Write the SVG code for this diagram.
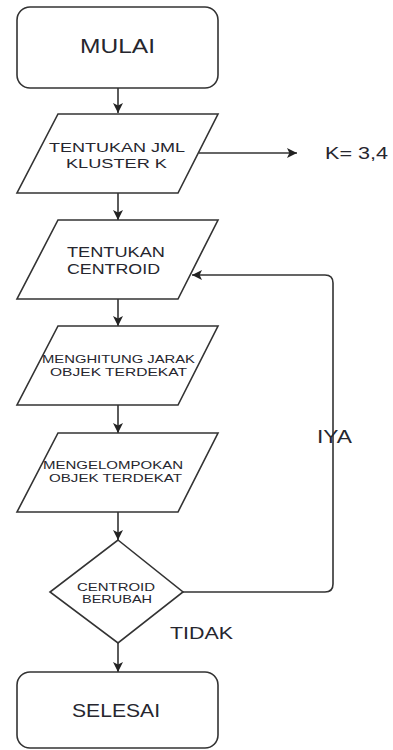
<svg xmlns="http://www.w3.org/2000/svg" width="393" height="750" viewBox="0 0 393 750">
<style>
.s{fill:#fff;stroke:#333;stroke-width:1.6}
.t{font-family:"Liberation Sans",Arial,sans-serif;fill:#26262e;text-anchor:middle}
.c{fill:none;stroke:#333;stroke-width:1.6}
</style>
<defs>
<marker id="ah" markerWidth="11" markerHeight="11" refX="10" refY="5.5" orient="auto" markerUnits="userSpaceOnUse">
<path d="M0,0.5 L10,5.5 L0,10.5 L2.4,5.5 Z" fill="#222"/>
</marker>
</defs>
<rect width="393" height="750" fill="#fff"/>
<g id="connectors">
<path class="c" d="M118,88 V113" marker-end="url(#ah)"/>
<path class="c" d="M199,153 H297" marker-end="url(#ah)"/>
<path class="c" d="M118,193 V220" marker-end="url(#ah)"/>
<path class="c" d="M118,299 V326" marker-end="url(#ah)"/>
<path class="c" d="M118,405 V433" marker-end="url(#ah)"/>
<path class="c" d="M118,512 V540" marker-end="url(#ah)"/>
<path class="c" d="M118,643 V672" marker-end="url(#ah)"/>
<path class="c" d="M183,592 H325 Q333,592 333,584 V283 Q333,275 325,275 H192" marker-end="url(#ah)"/>
</g>
<g id="mulai">
<rect class="s" x="17" y="7" width="201" height="81" rx="13"/>
<text class="t" x="117.5" y="53" font-size="21" textLength="75" lengthAdjust="spacingAndGlyphs">MULAI</text>
</g>
<g id="tentukan-jml">
<polygon class="s" points="58,114 218,114 178,193 17,193"/>
<text class="t" x="117" y="152" font-size="13.5" textLength="136" lengthAdjust="spacingAndGlyphs">TENTUKAN JML</text>
<text class="t" x="116.5" y="168" font-size="13.5" textLength="101" lengthAdjust="spacingAndGlyphs">KLUSTER K</text>
</g>
<g id="k-label">
<text class="t" x="356.5" y="159" font-size="17" textLength="63" lengthAdjust="spacingAndGlyphs">K= 3,4</text>
</g>
<g id="tentukan-centroid">
<polygon class="s" points="58,220 218,220 178,299 17,299"/>
<text class="t" x="116" y="257" font-size="15" textLength="98" lengthAdjust="spacingAndGlyphs">TENTUKAN</text>
<text class="t" x="113.5" y="274" font-size="15" textLength="93" lengthAdjust="spacingAndGlyphs">CENTROID</text>
</g>
<g id="menghitung">
<polygon class="s" points="58,326 218,326 178,405 17,405"/>
<text class="t" x="118.5" y="363" font-size="11.5" textLength="153" lengthAdjust="spacingAndGlyphs">MENGHITUNG JARAK</text>
<text class="t" x="118.5" y="376" font-size="11.5" textLength="137" lengthAdjust="spacingAndGlyphs">OBJEK TERDEKAT</text>
</g>
<g id="mengelompokan">
<polygon class="s" points="58,433 218,433 178,512 17,512"/>
<text class="t" x="113" y="469" font-size="11.5" textLength="140" lengthAdjust="spacingAndGlyphs">MENGELOMPOKAN</text>
<text class="t" x="115.5" y="482" font-size="11.5" textLength="133" lengthAdjust="spacingAndGlyphs">OBJEK TERDEKAT</text>
</g>
<g id="centroid-berubah">
<polygon class="s" points="118,540 183,592 118,643 50,592"/>
<text class="t" x="116" y="591" font-size="10.5" textLength="78" lengthAdjust="spacingAndGlyphs">CENTROID</text>
<text class="t" x="117" y="603" font-size="10.5" textLength="70" lengthAdjust="spacingAndGlyphs">BERUBAH</text>
</g>
<g id="iya-label">
<text class="t" x="334.5" y="443" font-size="18" textLength="35" lengthAdjust="spacingAndGlyphs">IYA</text>
</g>
<g id="tidak-label">
<text class="t" x="201.5" y="639" font-size="17" textLength="63" lengthAdjust="spacingAndGlyphs">TIDAK</text>
</g>
<g id="selesai">
<rect class="s" x="17" y="672" width="201" height="76" rx="13"/>
<text class="t" x="116" y="717" font-size="19" textLength="88" lengthAdjust="spacingAndGlyphs">SELESAI</text>
</g>
</svg>
